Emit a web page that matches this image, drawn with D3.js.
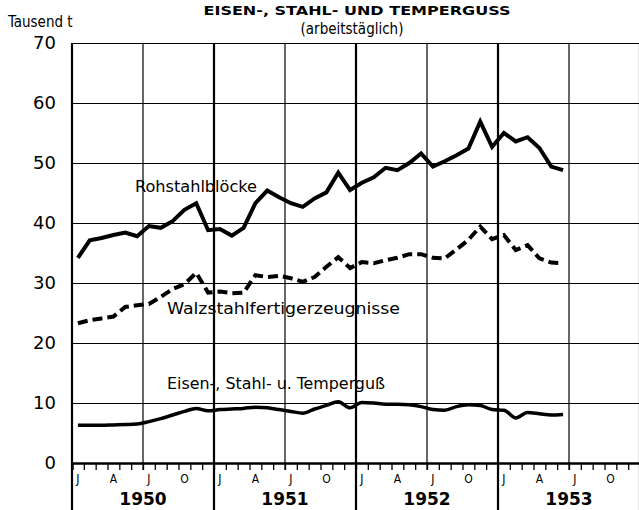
<!DOCTYPE html>
<html>
<head>
<meta charset="utf-8">
<script src="https://cdn.jsdelivr.net/npm/d3@7"></script>
<style>
  body { margin: 0; background: #fff; }
  svg { display: block; }
  text { fill: #000; }
</style>
</head>
<body>
<div id="chart"></div>
<script>
// monthly values, Jan 1950 .. Jun 1953 (Tausend t, arbeitstäglich)
const rohstahl = [
  34.2, 37.1, 37.5, 38.0, 38.4, 37.8, 39.5, 39.2, 40.3, 42.2, 43.3, 38.8,
  39.0, 37.9, 39.2, 43.3, 45.4, 44.3, 43.3, 42.7, 44.1, 45.1, 48.4, 45.5,
  46.7, 47.6, 49.2, 48.8, 50.0, 51.6, 49.4, 50.3, 51.3, 52.4, 56.9, 52.7,
  55.0, 53.6, 54.3, 52.5, 49.4, 48.8
];
const walzstahl = [
  23.3, 23.8, 24.1, 24.4, 26.0, 26.3, 26.5, 27.7, 29.0, 29.8, 31.7, 28.4,
  28.6, 28.3, 28.4, 31.3, 31.0, 31.2, 30.8, 30.2, 31.0, 32.7, 34.3, 32.5,
  33.5, 33.3, 33.8, 34.2, 34.8, 34.8, 34.2, 34.1, 35.6, 37.2, 39.4, 37.3,
  38.0, 35.5, 36.3, 34.1, 33.4, 33.3
];
const eisenguss = [
  6.3, 6.3, 6.3, 6.35, 6.4, 6.5, 6.9, 7.4, 8.0, 8.6, 9.1, 8.7,
  8.9, 9.0, 9.1, 9.3, 9.2, 8.9, 8.6, 8.3, 9.0, 9.6, 10.2, 9.2,
  10.1, 10.0, 9.8, 9.8, 9.7, 9.4, 8.9, 8.8, 9.4, 9.7, 9.6, 8.9,
  8.8, 7.5, 8.4, 8.2, 8.0, 8.1
];
const years = [1950, 1951, 1952, 1953];
const monthLabels = ["J", "A", "J", "O"]; // Jan, Apr, Jul, Oct
const yTicks = [0, 10, 20, 30, 40, 50, 60, 70];

const svg = d3.select("#chart").append("svg").attr("width", 639).attr("height", 510);
const margins = { top: 43, left: 72, bottom: 463, right: 640 };

const x = d3.scaleLinear().domain([0, years.length * 12]).range([margins.left, margins.right]);
const y = d3.scaleLinear().domain([0, 70]).range([margins.bottom, margins.top]);

const cond = "'DejaVu Sans Condensed', 'DejaVu Sans', sans-serif";

// horizontal grid
svg.append("g")
  .attr("class", "y gridlines")
  .attr("transform", `translate(${margins.left},0)`)
  .call(d3.axisLeft(y).tickValues(yTicks.slice(1)).tickSize(-(margins.right - margins.left)).tickFormat(""))
  .call(g => g.select(".domain").remove())
  .call(g => g.selectAll("line").attr("stroke", "#000").attr("stroke-width", 1.2));

// y labels
svg.append("g")
  .attr("transform", `translate(${margins.left},0)`)
  .call(d3.axisLeft(y).tickValues(yTicks).tickSize(0).tickPadding(16))
  .call(g => g.select(".domain").remove())
  .call(g => g.selectAll("text").attr("font-family", "'DejaVu Sans', sans-serif").attr("font-size", 18).attr("fill", "#000"));

// vertical grid: half years thin, years heavy
const halfYears = d3.range(6, years.length * 12, 12);
svg.append("g").selectAll("line").data(halfYears).join("line")
  .attr("x1", d => x(d)).attr("x2", d => x(d))
  .attr("y1", margins.top).attr("y2", margins.bottom + 7)
  .attr("stroke", "#000").attr("stroke-width", 1.2);
const yearStarts = d3.range(0, years.length * 12 + 1, 12);
svg.append("g").selectAll("line").data(yearStarts).join("line")
  .attr("x1", d => x(d)).attr("x2", d => x(d))
  .attr("y1", margins.top).attr("y2", 510)
  .attr("stroke", "#000").attr("stroke-width", 2.2);

// month ticks on the base line
svg.append("g")
  .attr("transform", `translate(0,${margins.bottom})`)
  .call(d3.axisBottom(x).tickValues(d3.range(0, years.length * 12 + 1)).tickSize(7).tickFormat(""))
  .call(g => g.select(".domain").attr("stroke", "#000").attr("stroke-width", 2.5))
  .call(g => g.selectAll("line").attr("stroke", "#000").attr("stroke-width", 1.3));

// month letters
const monthIdx = d3.range(0, years.length * 12).filter(i => i % 3 === 0);
svg.append("g").selectAll("text").data(monthIdx).join("text")
  .attr("x", d => x(d + 0.5))
  .attr("y", 483)
  .attr("text-anchor", "middle")
  .attr("font-family", cond)
  .attr("font-size", 12)
  .text(d => monthLabels[(d % 12) / 3]);

// year labels
svg.append("g").selectAll("text").data(years).join("text")
  .attr("x", (d, i) => x(i * 12 + 6))
  .attr("y", 505)
  .attr("text-anchor", "middle")
  .attr("font-family", "'DejaVu Sans', sans-serif")
  .attr("font-weight", "bold")
  .attr("font-size", 17)
  .text(d => d);

// series
const line = d3.line().x((d, i) => x(i + 0.5)).y(d => y(d));
svg.append("path").datum(rohstahl).attr("d", line)
  .attr("fill", "none").attr("stroke", "#000").attr("stroke-width", 4).attr("stroke-linejoin", "miter");
svg.append("path").datum(walzstahl).attr("d", line)
  .attr("fill", "none").attr("stroke", "#000").attr("stroke-width", 4).attr("stroke-dasharray", "10,5");
svg.append("path").datum(eisenguss).attr("d", line.curve(d3.curveMonotoneX))
  .attr("fill", "none").attr("stroke", "#000").attr("stroke-width", 3.5);

// series labels
const labels = [
  { t: "Rohstahlblöcke", x: 135, y: 192, w: 122 },
  { t: "Walzstahlfertigerzeugnisse", x: 167, y: 314, w: 233 },
  { t: "Eisen-, Stahl- u. Temperguß", x: 167, y: 389, w: 218 }
];
svg.append("g").selectAll("text").data(labels).join("text")
  .attr("x", d => d.x).attr("y", d => d.y)
  .attr("font-family", cond)
  .attr("font-size", 16)
  .attr("textLength", d => d.w)
  .attr("lengthAdjust", "spacingAndGlyphs")
  .text(d => d.t);

// titles
svg.append("text").attr("x", 357).attr("y", 15).attr("text-anchor", "middle")
  .attr("font-family", "'DejaVu Sans', sans-serif").attr("font-weight", "bold").attr("font-size", 13)
  .attr("textLength", 307).attr("lengthAdjust", "spacingAndGlyphs")
  .text("EISEN-, STAHL- UND TEMPERGUSS");
svg.append("text").attr("x", 352).attr("y", 34).attr("text-anchor", "middle")
  .attr("font-family", cond).attr("font-size", 15)
  .text("(arbeitstäglich)");
svg.append("text").attr("x", 8).attr("y", 27)
  .attr("font-family", cond).attr("font-size", 15)
  .text("Tausend t");
</script>
</body>
</html>
